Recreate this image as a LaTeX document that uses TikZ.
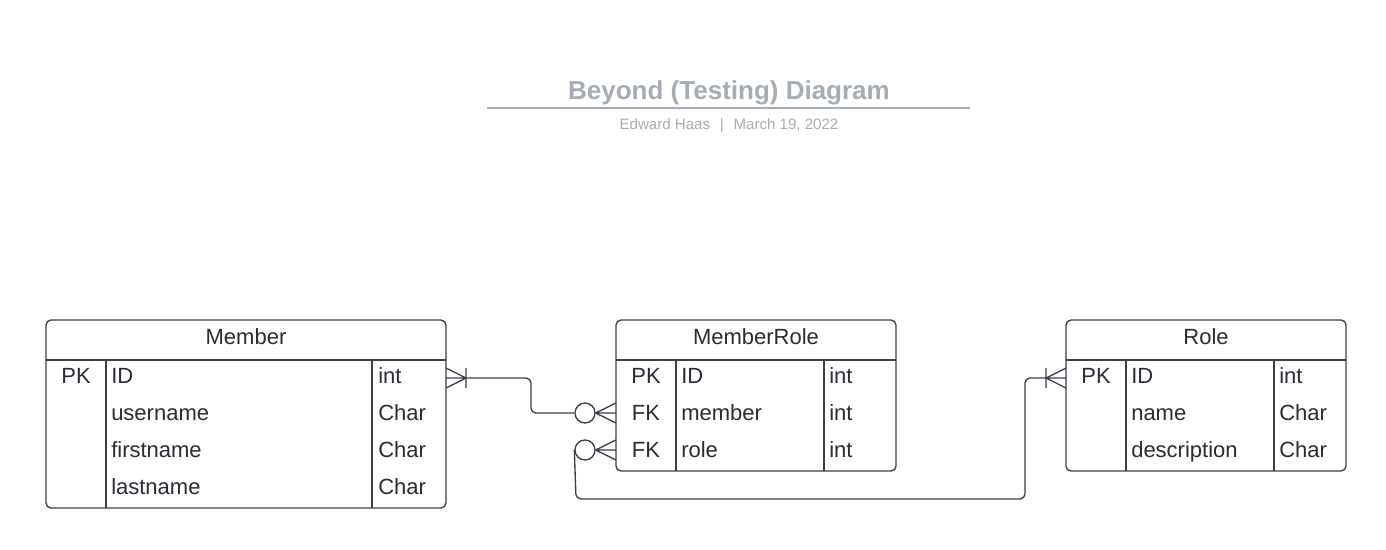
\documentclass[tikz,border=0pt]{standalone}
\usepackage{fontspec}
\setmainfont{Liberation Sans}
\definecolor{lineC}{HTML}{3A3F48}
\definecolor{textC}{HTML}{282C33}
\definecolor{titleC}{HTML}{A6ACB6}
\begin{document}
\begin{tikzpicture}[x=0.75pt,y=-0.75pt,
  tbl/.style={draw=lineC, line width=1pt, rounded corners=3.75pt, inner sep=0pt},
  grid/.style={draw=lineC, line width=1pt},
  conn/.style={draw=lineC, line width=1pt, rounded corners=3.75pt},
  crow/.style={draw=lineC, line width=1pt},
  txt/.style={anchor=base west, inner sep=0pt, text=textC, font=\fontsize{16.5}{19}\selectfont},
  ctxt/.style={txt, anchor=base},
  ring/.style={circle, draw=lineC, line width=1pt, minimum size=15pt, inner sep=0pt, fill=white}]
\useasboundingbox (0,0) rectangle (1386,550);

% Title
\node[anchor=base, inner sep=0pt, text=titleC, font=\bfseries\fontsize{19.5}{22}\selectfont] (title) at (729,99) {Beyond (Testing) Diagram};
\draw[draw=titleC, line width=1.5pt] (487,108) -- (970,108);
\node[anchor=base, inner sep=0pt, text=titleC, font=\fontsize{11.3}{13}\selectfont] (subtitle) at (729,129.5) {Edward Haas\hspace{0.65em}|\hspace{0.65em}March 19, 2022};

% Member table
\node[tbl, minimum width=300pt, minimum height=141pt] (member) at (246,414) {};
\draw[grid] (46,360) -- (446,360);
\draw[grid] (106,360) -- (106,508);
\draw[grid] (372,360) -- (372,508);
\node[ctxt] (memberH) at (246,344) {Member};
\node[ctxt] (mPK) at (76,383) {PK};
\node[txt] (mID) at (111,383) {ID};
\node[txt] (mIDt) at (378,383) {int};
\node[txt] (mU) at (111,420) {username};
\node[txt] (mUt) at (378,420) {Char};
\node[txt] (mF) at (111,457) {firstname};
\node[txt] (mFt) at (378,457) {Char};
\node[txt] (mL) at (111,494) {lastname};
\node[txt] (mLt) at (378,494) {Char};

% MemberRole table
\node[tbl, minimum width=210pt, minimum height=113.25pt] (mr) at (756,395.5) {};
\draw[grid] (616,360) -- (896,360);
\draw[grid] (676,360) -- (676,471);
\draw[grid] (824,360) -- (824,471);
\node[ctxt] (mrH) at (756,344) {MemberRole};
\node[ctxt] (mrPK) at (646,383) {PK};
\node[txt] (mrID) at (681,383) {ID};
\node[txt] (mrIDt) at (829,383) {int};
\node[ctxt] (mrFK1) at (646,420) {FK};
\node[txt] (mrM) at (681,420) {member};
\node[txt] (mrMt) at (829,420) {int};
\node[ctxt] (mrFK2) at (646,457) {FK};
\node[txt] (mrR) at (681,457) {role};
\node[txt] (mrRt) at (829,457) {int};

% Role table
\node[tbl, minimum width=210pt, minimum height=113.25pt] (role) at (1206,395.5) {};
\draw[grid] (1066,360) -- (1346,360);
\draw[grid] (1126,360) -- (1126,471);
\draw[grid] (1274,360) -- (1274,471);
\node[ctxt] (roleH) at (1206,344) {Role};
\node[ctxt] (rPK) at (1096,383) {PK};
\node[txt] (rID) at (1131,383) {ID};
\node[txt] (rIDt) at (1279,383) {int};
\node[txt] (rN) at (1131,420) {name};
\node[txt] (rNt) at (1279,420) {Char};
\node[txt] (rD) at (1131,457) {description};
\node[txt] (rDt) at (1279,457) {Char};

% Connector endpoints
\coordinate (mEdge) at (446,378);
\coordinate (mTip) at (466,378);
\coordinate (mrEdge1) at (616,413);
\coordinate (mrEdge2) at (616,450);
\coordinate (rEdge) at (1066,378);
\coordinate (rTip) at (1046,378);
\node[ring] (ring1) at (585,413) {};
\node[ring] (ring2) at (585,450) {};

% Member ID -> MemberRole member
\draw[crow] (446,368) -- (mTip) (mEdge) -- (mTip) (446,388) -- (mTip) (466,368) -- (466,388);
\draw[conn] (mTip) -- (531,378) -- (531,413) -- (ring1.west);
\draw[crow] (ring1.east) -- (616,403) (ring1.east) -- (mrEdge1) (ring1.east) -- (616,423);

% Role ID -> MemberRole role
\draw[crow] (1066,368) -- (rTip) (rEdge) -- (rTip) (1066,388) -- (rTip) (1046,368) -- (1046,388);
\draw[conn] (rTip) -- (1025,378) -- (1025,499) -- (576,499) -- (ring2.west);
\draw[crow] (ring2.east) -- (616,440) (ring2.east) -- (mrEdge2) (ring2.east) -- (616,460);
\end{tikzpicture}
\end{document}
